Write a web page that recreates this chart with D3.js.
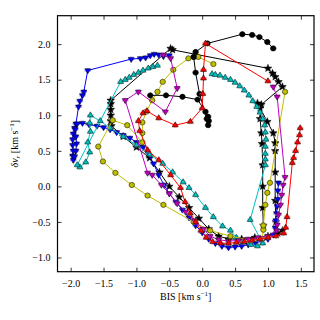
<!DOCTYPE html>
<html>
<head>
<meta charset="utf-8">
<script src="https://cdn.jsdelivr.net/npm/d3@7"></script>
<style>
  body { margin: 0; background: #fff; }
  text { font-family: "Liberation Serif", "DejaVu Serif", serif; }
</style>
</head>
<body>
<div id="chart"></div>
<script>
// tick values
const xTicks = [-2.0, -1.5, -1.0, -0.5, 0.0, 0.5, 1.0, 1.5];
const yTicks = [-1.0, -0.5, 0.0, 0.5, 1.0, 1.5, 2.0];

// series, [BIS, dv_r]
const blackCirc = [
    [-0.79,1.28],[-0.55,1.28],[-0.30,1.26],[-0.07,1.22],[0.05,1.05],[0.09,0.98],[0.10,0.92],
    [0.09,0.86],[0.07,0.95],[-0.04,1.30],[-0.10,1.60],[-0.13,1.82],[-0.10,1.89],[0.08,2.01],
    [0.61,2.14],[0.76,2.13],[0.87,2.10],[0.99,2.03],[1.08,1.94]
];
const blackStar = [
    [0.84,1.17],[0.88,1.10],[0.99,0.91],[1.08,0.75],[1.11,0.61],[1.11,0.50],[1.11,0.20],
    [1.11,-0.20],[1.12,-0.50],[1.15,-0.66],[1.22,-0.62],[1.00,-0.70],[0.80,-0.72],[0.60,-0.74],
    [0.40,-0.74],[0.25,-0.70],[0.10,-0.60],[-0.05,-0.45],[-0.20,-0.30],[-0.35,-0.15],[-0.50,0.00],
    [-0.65,0.20],[-0.80,0.40],[-1.00,0.55],[-1.20,0.70],[-1.38,0.85],[-1.39,0.92],[-1.39,1.00],
    [-1.39,1.08],[-1.39,1.16],[-1.39,1.21],[-0.48,1.94],[-0.45,1.92],[1.00,1.66],[1.07,1.59],
    [1.11,1.54],[1.16,1.47],[1.22,1.40],[0.90,1.15],[0.88,0.95],[0.90,0.75],[0.91,0.60],
    [0.92,0.30],[0.92,0.00],[0.92,-0.30],[0.93,-0.55]
];
const blue = [
    [-0.50,1.84],[-0.59,1.83],[-0.66,1.85],[-0.73,1.86],[-0.79,1.84],[-0.86,1.81],[-0.94,1.80],
    [-1.08,1.79],[-1.74,1.63],[-1.80,1.33],[-1.82,1.28],[-1.86,1.20],[-1.88,1.12],[-1.92,0.88],
    [-1.94,0.82],[-1.96,0.74],[-1.97,0.66],[-1.97,0.58],[-1.96,0.50],[-1.97,0.43],[-1.96,0.37],
    [-1.94,0.42],[-1.92,0.50],[-1.91,0.60],[-1.92,0.70],[-1.93,0.80],[-1.90,0.88],[-1.82,0.89],
    [-1.72,0.87],[-1.60,0.85],[-1.50,0.83],[-1.40,0.80],[-1.30,0.76],[-1.20,0.72],[-1.10,0.68],
    [-1.00,0.62],[-0.90,0.55],[-0.82,0.46],[-0.74,0.32],[-0.66,0.16],[-0.58,0.02],[-0.50,-0.10],
    [-0.40,-0.22],[-0.30,-0.33],[-0.20,-0.44],[-0.10,-0.55],[0.00,-0.65],[0.10,-0.74],[0.20,-0.80],
    [0.30,-0.84],[0.40,-0.86],[0.50,-0.85],[0.60,-0.84],[0.70,-0.82],[0.80,-0.80],[0.90,-0.77],
    [1.00,-0.74],[1.08,-0.68],[1.11,-0.58],[1.12,-0.48],[1.13,-0.38],[1.14,-0.28],[1.15,-0.18],
    [1.15,-0.06],[1.16,0.05]
];
const cyan = [
    [0.15,1.58],[0.20,1.57],[0.27,1.56],[0.35,1.53],[0.43,1.50],[0.50,1.46],[0.57,1.41],
    [0.64,1.35],[0.71,1.28],[0.77,1.20],[0.83,1.12],[0.88,1.04],[0.92,0.95],[0.95,0.86],
    [0.96,0.76],[0.97,0.66],[0.96,0.56],[0.96,0.46],[0.96,0.38],[0.96,0.30],[0.73,-0.47],
    [0.92,-0.80],[0.84,-0.84],[0.74,-0.82],[0.62,-0.78],[0.52,-0.72],[0.43,-0.62],[0.31,-0.56],
    [0.17,-0.43],[0.05,-0.30],[-0.10,-0.12],[-0.20,-0.02],[-0.29,0.06],[-0.45,0.20],[-0.60,0.32],
    [-0.80,0.45],[-1.00,0.58],[-1.20,0.70],[-1.40,0.82],[-1.55,0.92],[-1.70,1.00],[-1.71,0.89],
    [-1.70,0.77],[-1.74,0.62],[-1.71,0.48],[-1.77,0.34],[-1.86,0.27],[-1.90,0.30],[-1.24,1.47],
    [-1.17,1.50],[-1.11,1.53],[-1.04,1.57],[-0.97,1.60],[-0.90,1.63],[-0.82,1.66],[-0.75,1.68],
    [-0.68,1.70]
];
const yellow = [
    [0.17,1.72],[-0.06,1.82],[-0.13,1.82],[-0.21,1.80],[-0.44,1.64],[-0.60,1.47],[-0.68,1.33],
    [-0.76,1.21],[-0.85,1.05],[-0.91,0.90],[-0.91,0.75],[-0.91,0.62],[-1.14,0.86],[-1.36,0.93],
    [-1.58,0.56],[-1.51,0.35],[-1.32,0.19],[-1.07,0.02],[-0.83,-0.13],[-0.59,-0.26],[-0.13,-0.50],
    [0.12,-0.62],[0.43,-0.70],[0.73,-0.76],[0.91,-0.74],[0.93,-0.61],[0.93,-0.55],[0.96,-0.26],
    [0.99,-0.09],[1.03,0.05],[1.26,1.33]
];
const magenta = [
    [-0.59,1.85],[-0.48,1.80],[-0.38,1.38],[-0.56,1.05],[-0.97,1.33],[-1.17,1.21],[-0.83,0.19],
    [-0.76,0.16],[-0.62,0.02],[-0.50,-0.10],[-0.38,-0.24],[-0.25,-0.36],[-0.12,-0.48],[0.02,-0.60],
    [0.12,-0.70],[0.25,-0.75],[0.40,-0.77],[0.55,-0.76],[0.70,-0.74],[0.85,-0.72],[1.00,-0.70],
    [1.13,-0.62],[1.14,-0.54],[1.16,-0.40],[1.19,-0.26],[1.21,-0.12],[1.23,0.02],[1.26,0.13],
    [1.14,1.26],[1.08,1.40]
];
const red = [
    [1.49,0.82],[1.48,0.72],[1.45,0.62],[1.42,0.50],[1.39,0.40],[1.37,0.33],[1.29,-0.43],
    [1.27,-0.58],[1.24,-0.66],[1.12,-0.70],[1.00,-0.72],[0.88,-0.74],[0.76,-0.76],[0.64,-0.78],
    [0.52,-0.79],[0.40,-0.80],[0.28,-0.80],[0.16,-0.78],[0.06,-0.72],[-0.02,-0.62],[-0.10,-0.50],
    [-0.18,-0.38],[-0.26,-0.22],[-0.33,-0.02],[-0.48,0.16],[-0.66,0.37],[-0.83,0.51],[-0.95,0.78],
    [-0.97,0.92],[-0.90,1.03],[-0.84,1.06],[-0.66,0.96],[-0.41,0.86],[-0.18,0.91],[0.00,1.10],
    [0.01,1.30],[0.02,1.52],[0.02,1.64],[0.05,2.01],[1.00,1.48]
];

const series = [
    {name: 'k1', data: blackStar, color: '#000000', err: '#777777', marker: 'star'},
    {name: 'b', data: blue, color: '#0000ff', err: '#8080ff', marker: 'down'},
    {name: 'c', data: cyan, color: '#00bfbf', err: '#80dfdf', marker: 'up'},
    {name: 'y', data: yellow, color: '#bfbf00', err: '#dfdf80', marker: 'circle'},
    {name: 'k2', data: blackCirc, color: '#000000', err: '#777777', marker: 'circle'},
    {name: 'm', data: magenta, color: '#bf00bf', err: '#df80df', marker: 'down'},
    {name: 'r', data: red, color: '#ff0000', err: '#ff8080', marker: 'up'},
];

const width = 320, height = 320;
const margin = {left: 57.5, right: 6, top: 15.7, bottom: 48.3};

const x = d3.scaleLinear().domain([-2.2, 1.7]).range([margin.left, width - margin.right]);
const y = d3.scaleLinear().domain([-1.2, 2.4]).range([height - margin.bottom, margin.top]);

const svg = d3.select('#chart').append('svg')
    .attr('width', width)
    .attr('height', height);

const plot = svg.append('g');

plot.append('clipPath').attr('id', 'clip')
    .append('rect')
    .attr('x', margin.left).attr('y', margin.top)
    .attr('width', width - margin.left - margin.right)
    .attr('height', height - margin.top - margin.bottom);

const inner = plot.append('g').attr('clip-path', 'url(#clip)');

const line = d3.line().x(d => x(d[0])).y(d => y(d[1]));

function markerPath(type) {
    if (type === 'circle') return d3.symbol().type(d3.symbolCircle).size(22)();
    if (type === 'star') return d3.symbol().type(d3.symbolStar).size(18)();
    return d3.symbol().type(d3.symbolTriangle).size(15)();
}

series.forEach(s => {
    const g = inner.append('g').attr('class', 'series-' + s.name);

    // error bars
    const ex = 0.05, ey = 0.035;
    g.selectAll('.ex').data(s.data).enter().append('line')
        .attr('x1', d => x(d[0] - ex)).attr('x2', d => x(d[0] + ex))
        .attr('y1', d => y(d[1])).attr('y2', d => y(d[1]))
        .attr('stroke', s.err).attr('stroke-width', 2.5).attr('opacity', 0.6);
    g.selectAll('.ey').data(s.data).enter().append('line')
        .attr('x1', d => x(d[0])).attr('x2', d => x(d[0]))
        .attr('y1', d => y(d[1] - ey)).attr('y2', d => y(d[1] + ey))
        .attr('stroke', s.err).attr('stroke-width', 2.5).attr('opacity', 0.6);

    g.append('path')
        .datum(s.data)
        .attr('fill', 'none')
        .attr('stroke', s.color)
        .attr('stroke-width', 1)
        .attr('d', line);

    g.selectAll('.mk').data(s.data).enter().append('path')
        .attr('d', markerPath(s.marker))
        .attr('transform', d => `translate(${x(d[0])},${y(d[1])})` + (s.marker === 'down' ? ' rotate(180)' : ''))
        .attr('fill', s.color)
        .attr('stroke', '#000')
        .attr('stroke-width', 0.5);
});

// axes, ticks pointing in
const fmt = d3.format('.1f');
plot.append('g')
    .attr('transform', `translate(0,${height - margin.bottom})`)
    .call(d3.axisBottom(x).tickValues(xTicks).tickSizeInner(-4).tickSizeOuter(0).tickPadding(8).tickFormat(fmt));
plot.append('g')
    .attr('transform', `translate(0,${margin.top})`)
    .call(d3.axisTop(x).tickValues(xTicks).tickSizeInner(-4).tickSizeOuter(0).tickFormat(''));
plot.append('g')
    .attr('transform', `translate(${margin.left},0)`)
    .call(d3.axisLeft(y).tickValues(yTicks).tickSizeInner(-4).tickSizeOuter(0).tickPadding(7).tickFormat(fmt));
plot.append('g')
    .attr('transform', `translate(${width - margin.right},0)`)
    .call(d3.axisRight(y).tickValues(yTicks).tickSizeInner(-4).tickSizeOuter(0).tickFormat(''));

plot.selectAll('.domain').remove();
plot.selectAll('.tick text').attr('font-size', 10).attr('font-family', '"Liberation Serif", serif').attr('fill', '#000');
plot.selectAll('.tick line').attr('stroke', '#000').attr('stroke-width', 0.8);

plot.append('rect')
    .attr('x', margin.left).attr('y', margin.top)
    .attr('width', width - margin.left - margin.right)
    .attr('height', height - margin.top - margin.bottom)
    .attr('fill', 'none')
    .attr('stroke', '#000')
    .attr('stroke-width', 1.2);

// axis labels
svg.append('text')
    .attr('x', (margin.left + width - margin.right) / 2)
    .attr('y', 300)
    .attr('text-anchor', 'middle')
    .attr('font-size', 10)
    .html('BIS [km s<tspan dy="-4" font-size="7">−1</tspan><tspan dy="4">]</tspan>');

svg.append('text')
    .attr('transform', `translate(18,${(margin.top + height - margin.bottom) / 2}) rotate(-90)`)
    .attr('text-anchor', 'middle')
    .attr('font-size', 10)
    .html('<tspan font-style="italic">δv</tspan><tspan font-style="italic" font-size="7" dy="2">r</tspan><tspan dy="-2"> [km s</tspan><tspan dy="-4" font-size="7">−1</tspan><tspan dy="4">]</tspan>');
</script>
</body>
</html>
